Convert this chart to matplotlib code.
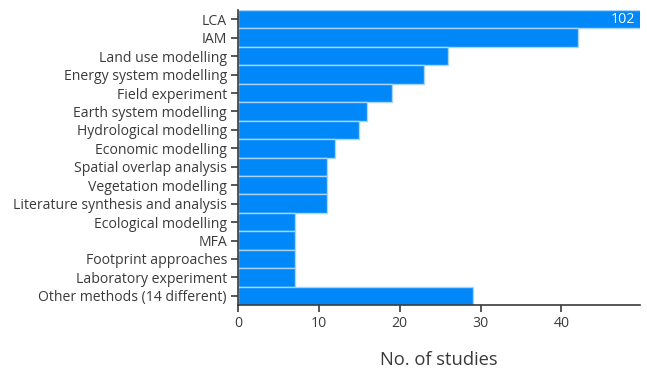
import numpy as np
import matplotlib.pyplot as plt

methods = [
    "LCA", "IAM", "Land use modelling", "Energy system modelling",
    "Field experiment", "Earth system modelling", "Hydrological modelling",
    "Economic modelling", "Spatial overlap analysis", "Vegetation modelling",
    "Literature synthesis and analysis", "Ecological modelling", "MFA",
    "Footprint approaches", "Laboratory experiment", "Other methods (14 different)",
]
studies = [102, 42, 26, 23, 19, 16, 15, 12, 11, 11, 11, 7, 7, 7, 7, 29]
x_ticks = [0, 10, 20, 30, 40]

plt.rcParams['font.family'] = ['Open Sans', 'DejaVu Sans']
text_color = "#3a3a3a"

fig = plt.figure(figsize=(6.47, 3.72), dpi=100)
ax = fig.add_axes([0.368, 0.180, 0.621, 0.793])

y_pos = np.arange(len(methods))
ax.barh(y_pos, studies, height=1.0, color="#0088f8",
        edgecolor="#a8d4fb", linewidth=1.0)

xmax = 49.7
ax.set_xlim(0, xmax)
ax.set_ylim(len(methods) - 0.5, -0.5)

# label for the clipped bar
for i, v in enumerate(studies):
    if v > xmax:
        ax.text(xmax - 0.6, i, str(v), color="white", va="center",
                ha="right", fontsize=10.2)

ax.set_yticks(y_pos)
ax.set_yticklabels(methods, fontsize=10.1, color=text_color)
ax.set_xticks(x_ticks)
ax.set_xticklabels([str(t) for t in x_ticks], fontsize=10.1, color=text_color)
ax.tick_params(axis="both", direction="out", length=5, width=1.2,
               color=text_color, pad=3)
ax.set_xlabel("No. of studies", fontsize=13.2, color=text_color, labelpad=14)

for s in ["top", "right"]:
    ax.spines[s].set_visible(False)
for s in ["left", "bottom"]:
    ax.spines[s].set_color(text_color)
    ax.spines[s].set_linewidth(1.2)

fig.savefig("out.png", dpi=100)
